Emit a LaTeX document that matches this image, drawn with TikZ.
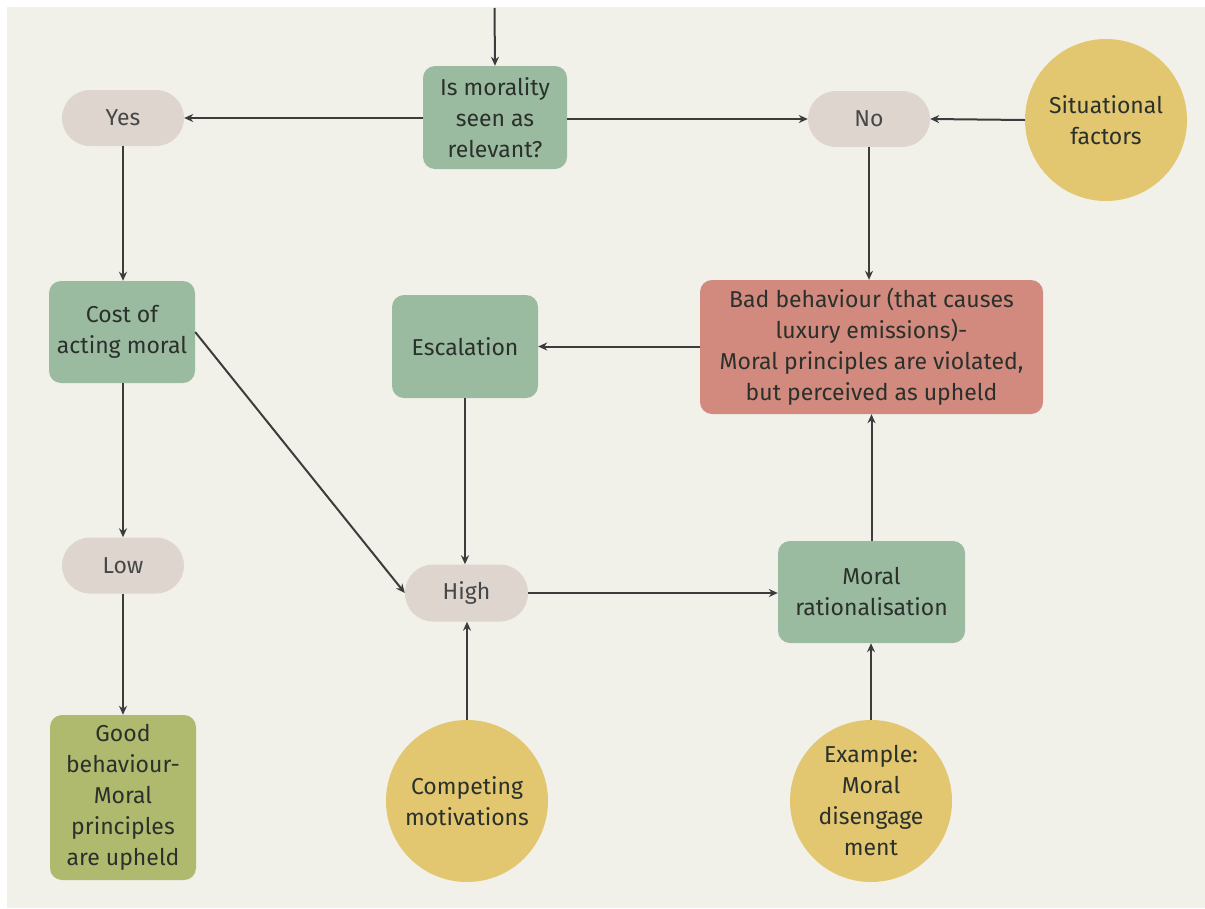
\documentclass[tikz,border=0pt]{standalone}
\usepackage{fontspec}
\setmainfont{Fira Sans}
\usetikzlibrary{arrows.meta,shapes.geometric}
\definecolor{bgc}{HTML}{F1F1EA}
\definecolor{greenc}{HTML}{9BBBA0}
\definecolor{pillc}{HTML}{DDD5CE}
\definecolor{yellowc}{HTML}{E2C670}
\definecolor{redc}{HTML}{D28A7E}
\definecolor{olivec}{HTML}{B0BA6E}
\definecolor{linec}{HTML}{3C3C3C}
\definecolor{textc}{HTML}{2A302B}
\tikzset{
  base/.style={align=center, text=textc, font=\fontsize{23}{31}\selectfont, inner sep=0pt},
  gbox/.style={base, fill=greenc, rounded corners=12pt},
  pill/.style={base, fill=pillc, rounded corners=28pt, minimum width=122pt, minimum height=56pt, text=black!72},
  circ/.style={base, fill=yellowc, circle, minimum size=162pt},
  conn/.style={draw=linec, line width=2pt, -{Stealth[length=9pt,width=8pt]}}
}
\begin{document}
\begin{tikzpicture}[x=1pt,y=-1pt]
\fill[white] (0,0) rectangle (1205,908);
\fill[bgc] (7,7) rectangle (1205,908);
\useasboundingbox (0,0) rectangle (1205,908);

\node[gbox, minimum width=144pt, minimum height=103pt] (moral) at (495,117.5) {Is morality\\seen as\\relevant?};
\node[pill] (yes) at (123,118) {Yes};
\node[pill] (no) at (869,119) {No};
\node[circ] (sit) at (1106,120) {Situational\\factors};
\node[gbox, minimum width=146pt, minimum height=102pt] (cost) at (122,332) {Cost of\\acting moral};
\node[gbox, minimum width=146pt, minimum height=103pt] (esc) at (465,346.5) {Escalation};
\node[base, fill=redc, rounded corners=12pt, minimum width=343pt, minimum height=134pt] (bad) at (871.5,347) {Bad behaviour (that causes\\luxury emissions)-\\Moral principles are violated,\\but perceived as upheld};
\node[pill] (low) at (123,565.5) {Low};
\node[pill, minimum width=123pt, minimum height=57pt] (high) at (466.5,593) {High};
\node[gbox, minimum width=187pt, minimum height=102pt] (rat) at (871.5,592) {Moral\\rationalisation};
\node[base, fill=olivec, rounded corners=12pt, minimum width=146pt, minimum height=165pt] (good) at (123,797.5) {Good\\behaviour-\\Moral\\principles\\are upheld};
\node[circ] (comp) at (467,801) {Competing\\motivations};
\node[circ] (ex) at (871,801) {Example:\\Moral\\disengage\\ment};

\coordinate (top) at (494.5,8);
\draw[conn] (top) -- (moral.north);
\draw[conn] (moral.west |- yes) -- (yes.east);
\draw[conn] (moral.east |- no) -- (no.west);
\draw[conn] (sit.west) -- (no.east);
\draw[conn] (yes.south) -- (cost.north -| yes.south);
\draw[conn] (no.south) -- (bad.north -| no.south);
\draw[conn] (bad.west |- esc) -- (esc.east);
\draw[conn] (esc.south) -- (high.north -| esc.south);
\draw[conn] (cost.east) -- (high.west);
\draw[conn] (cost.south -| low) -- (low.north);
\draw[conn] (low.south) -- (good.north);
\draw[conn] (high.east) -- (rat.west |- high.east);
\draw[conn] (rat.north) -- (bad.south -| rat.north);
\draw[conn] (comp.north) -- (high.south -| comp.north);
\draw[conn] (ex.north) -- (rat.south -| ex.north);
\end{tikzpicture}
\end{document}
